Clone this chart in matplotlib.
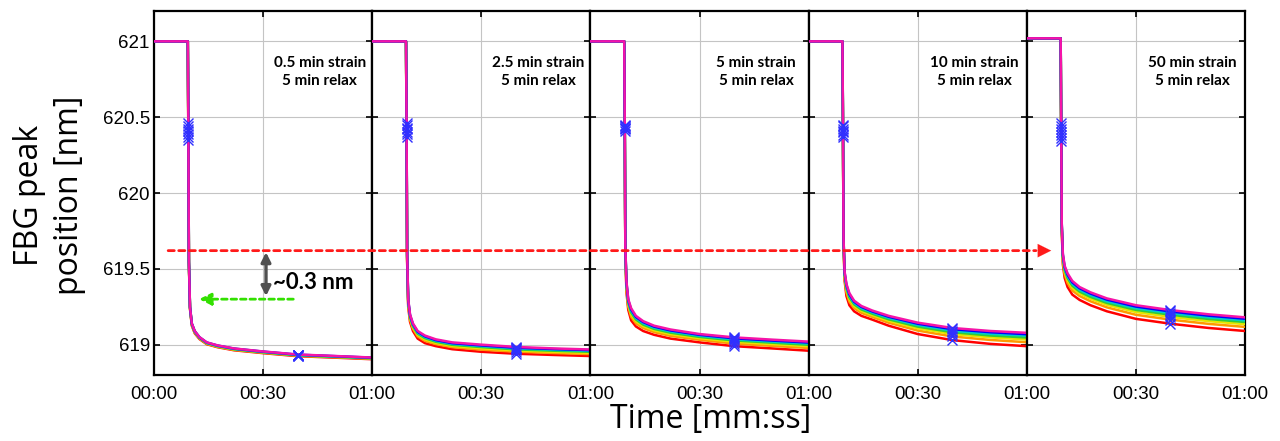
import numpy as np
import matplotlib
matplotlib.use('Agg')
import matplotlib.pyplot as plt
from matplotlib.patches import ConnectionPatch

# time axis [s]; first two points are the strain plateau, third the step (marker), rest the relaxation
t_plateau = [0.0, 9.3]
t_step = 9.45
t_relax = [9.6, 9.9, 10.4, 11.2, 12.5, 14.5, 17.5, 22.0, 30.0, 39.5, 50.0, 60.0]
i_mark = 9  # index of 39.5 s in t_relax

panel_labels = ['0.5 min strain\n5 min relax', '2.5 min strain\n5 min relax',
                '5 min strain\n5 min relax', '10 min strain\n5 min relax',
                '50 min strain\n5 min relax']
plateau = [621.0, 621.0, 621.0, 621.0, 621.02]

line_colors = ['#ff0000', '#ff9900', '#e6e600', '#33cc33', '#00cccc', '#0000ff', '#f514a8']

# step marker values (red -> magenta)
step_p1 = [620.35, 620.37, 620.39, 620.41, 620.42, 620.44, 620.46]
step_p2 = [620.37, 620.39, 620.40, 620.42, 620.43, 620.45, 620.46]
step_p3 = [620.41, 620.42, 620.43, 620.43, 620.44, 620.44, 620.45]
step_p4 = [620.37, 620.38, 620.40, 620.41, 620.42, 620.44, 620.45]
step_p5 = [620.34, 620.36, 620.38, 620.40, 620.42, 620.44, 620.46]

# relaxation curves per panel (rows red, orange, yellow, green, cyan, blue, magenta)
relax_p1 = [
    [619.53, 619.235, 619.125, 619.075, 619.037, 619.003, 618.983, 618.963, 618.944, 618.924, 618.914, 618.904],
    [619.54, 619.240, 619.130, 619.080, 619.041, 619.006, 618.986, 618.966, 618.947, 618.927, 618.917, 618.907],
    [619.54, 619.243, 619.133, 619.082, 619.043, 619.008, 618.988, 618.968, 618.949, 618.929, 618.919, 618.909],
    [619.545, 619.245, 619.135, 619.085, 619.045, 619.010, 618.990, 618.970, 618.950, 618.930, 618.920, 618.910],
    [619.545, 619.247, 619.137, 619.087, 619.047, 619.012, 618.992, 618.972, 618.952, 618.932, 618.922, 618.912],
    [619.55, 619.249, 619.139, 619.089, 619.049, 619.014, 618.994, 618.974, 618.954, 618.934, 618.924, 618.914],
    [619.55, 619.250, 619.140, 619.090, 619.050, 619.015, 618.995, 618.975, 618.955, 618.935, 618.925, 618.915],
]
relax_p2 = [
    [619.55, 619.250, 619.150, 619.090, 619.040, 619.010, 618.990, 618.970, 618.953, 618.940, 618.932, 618.925],
    [619.565, 619.265, 619.165, 619.105, 619.055, 619.025, 619.004, 618.984, 618.967, 618.954, 618.945, 618.938],
    [619.575, 619.275, 619.175, 619.115, 619.065, 619.035, 619.012, 618.992, 618.976, 618.962, 618.953, 618.946],
    [619.583, 619.283, 619.183, 619.123, 619.073, 619.043, 619.019, 618.999, 618.984, 618.969, 618.960, 618.953],
    [619.589, 619.289, 619.189, 619.129, 619.079, 619.049, 619.025, 619.005, 618.990, 618.975, 618.966, 618.959],
    [619.595, 619.295, 619.195, 619.135, 619.085, 619.055, 619.030, 619.010, 618.995, 618.980, 618.971, 618.964],
    [619.60, 619.300, 619.200, 619.140, 619.090, 619.060, 619.035, 619.015, 619.000, 618.985, 618.975, 618.968],
]
relax_p3 = [
    [619.60, 619.350, 619.230, 619.160, 619.120, 619.090, 619.065, 619.040, 619.015, 618.990, 618.975, 618.960],
    [619.615, 619.371, 619.251, 619.184, 619.141, 619.110, 619.083, 619.058, 619.032, 619.007, 618.992, 618.978],
    [619.625, 619.385, 619.265, 619.200, 619.155, 619.123, 619.095, 619.070, 619.043, 619.019, 619.004, 618.990],
    [619.633, 619.396, 619.276, 619.212, 619.166, 619.132, 619.104, 619.079, 619.051, 619.028, 619.013, 618.999],
    [619.639, 619.405, 619.285, 619.222, 619.175, 619.141, 619.112, 619.087, 619.058, 619.035, 619.020, 619.007],
    [619.645, 619.413, 619.293, 619.232, 619.183, 619.149, 619.119, 619.094, 619.065, 619.042, 619.027, 619.014],
    [619.65, 619.420, 619.300, 619.240, 619.190, 619.155, 619.125, 619.100, 619.070, 619.048, 619.033, 619.020],
]
relax_p4 = [
    [619.65, 619.420, 619.320, 619.260, 619.220, 619.190, 619.165, 619.125, 619.070, 619.030, 619.005, 618.990],
    [619.665, 619.438, 619.344, 619.284, 619.241, 619.210, 619.183, 619.145, 619.093, 619.054, 619.031, 619.016],
    [619.675, 619.450, 619.360, 619.300, 619.255, 619.223, 619.195, 619.158, 619.108, 619.070, 619.048, 619.034],
    [619.683, 619.459, 619.372, 619.312, 619.266, 619.232, 619.204, 619.167, 619.119, 619.082, 619.060, 619.047],
    [619.689, 619.467, 619.382, 619.322, 619.275, 619.241, 619.212, 619.176, 619.129, 619.092, 619.071, 619.059],
    [619.695, 619.474, 619.392, 619.332, 619.283, 619.249, 619.219, 619.184, 619.138, 619.102, 619.082, 619.069],
    [619.70, 619.480, 619.400, 619.340, 619.290, 619.255, 619.225, 619.190, 619.145, 619.110, 619.090, 619.078],
]
relax_p5 = [
    [619.75, 619.530, 619.440, 619.380, 619.330, 619.295, 619.260, 619.220, 619.170, 619.138, 619.110, 619.090],
    [619.765, 619.551, 619.464, 619.407, 619.357, 619.321, 619.286, 619.246, 619.197, 619.165, 619.137, 619.117],
    [619.775, 619.565, 619.480, 619.425, 619.375, 619.338, 619.303, 619.263, 619.215, 619.183, 619.155, 619.135],
    [619.783, 619.576, 619.492, 619.439, 619.389, 619.350, 619.315, 619.275, 619.229, 619.197, 619.169, 619.149],
    [619.789, 619.585, 619.502, 619.450, 619.400, 619.361, 619.326, 619.286, 619.240, 619.208, 619.180, 619.160],
    [619.795, 619.593, 619.512, 619.461, 619.411, 619.372, 619.337, 619.297, 619.251, 619.219, 619.191, 619.171],
    [619.80, 619.600, 619.520, 619.470, 619.420, 619.380, 619.345, 619.305, 619.260, 619.228, 619.200, 619.180],
]

step_all = [step_p1, step_p2, step_p3, step_p4, step_p5]
relax_all = [relax_p1, relax_p2, relax_p3, relax_p4, relax_p5]

yticks = [619, 619.5, 620, 620.5, 621]
ytick_labels = ['619', '619.5', '620', '620.5', '621']
xticks = [0, 30, 60]
xtick_labels = ['00:00', '00:30', '01:00']

# annotations
ref_level = 619.62     # red dashed reference line
drop_top, drop_bot = 619.61, 619.32
green_level = 619.30

fig = plt.figure(figsize=(12.8, 4.41), dpi=100)
gs = fig.add_gridspec(1, 5, left=0.1203, right=0.9727, bottom=0.1497, top=0.975, wspace=0)
axs = [fig.add_subplot(gs[0, i]) for i in range(5)]

tick_font = {'family': 'Liberation Sans', 'size': 13.5}

for ip, ax in enumerate(axs):
    t_line = t_plateau + [t_step] + t_relax
    for ic, clr in enumerate(line_colors):
        y_line = [plateau[ip], plateau[ip], step_all[ip][ic]] + relax_all[ip][ic]
        ax.plot(t_line, y_line, color=clr, lw=1.8, zorder=3)
    for ic in range(len(line_colors)):
        ax.plot([t_step, t_relax[i_mark]], [step_all[ip][ic], relax_all[ip][ic][i_mark]],
                'x', color='#3030ff', ms=6.5, mew=1.0, zorder=4)

    ax.set_xlim(0, 60)
    ax.set_ylim(618.8, 621.2)
    ax.set_xticks(xticks)
    if ip == 0:
        ax.set_xticklabels(xtick_labels, fontdict=tick_font)
    else:
        ax.set_xticklabels([''] + xtick_labels[1:], fontdict=tick_font)
    ax.set_yticks(yticks)
    if ip == 0:
        ax.set_yticklabels(ytick_labels, fontdict=tick_font)
    else:
        ax.set_yticklabels([])
    ax.tick_params(direction='in', length=4, width=1.2, top=True, right=True, colors='black')
    ax.tick_params(axis='x', pad=8)
    ax.tick_params(axis='y', pad=3)
    ax.grid(True, color='#c4c4c4', lw=0.8)
    ax.set_axisbelow(True)
    for sp in ax.spines.values():
        sp.set_linewidth(1.6)
    ax.text(0.76, 0.832, panel_labels[ip], transform=ax.transAxes, ha='center', va='center',
            fontsize=11, fontweight='bold', family='Lato', linespacing=1.35)

# red dashed reference arrow across all panels
con = ConnectionPatch(xyA=(3.9, ref_level), coordsA=axs[0].transData,
                      xyB=(2.5, ref_level), coordsB=axs[4].transData,
                      color='#ff1a1a', lw=2, linestyle=(0, (2.2, 1.6)), zorder=10)
fig.add_artist(con)
axs[4].annotate('', xy=(6.7, ref_level), xytext=(1.5, ref_level),
                arrowprops=dict(arrowstyle='-|>', color='#ff1a1a', lw=0.1, mutation_scale=24,
                                shrinkA=0, shrinkB=0),
                annotation_clip=False, zorder=10)

# gray double arrow and label
ax0 = axs[0]
ax0.annotate('', xy=(30.8, drop_bot), xytext=(30.8, drop_top),
             arrowprops=dict(arrowstyle='<|-|>', color='#505050', lw=2.4, mutation_scale=14,
                             shrinkA=0, shrinkB=0), zorder=6)
ax0.text(32.7, 619.41, '~0.3 nm', fontsize=16, fontweight='bold', family='Lato',
         ha='left', va='center', zorder=6)

# green dashed arrow
ax0.annotate('', xy=(12.4, green_level), xytext=(38.3, green_level),
             arrowprops=dict(arrowstyle='-|>', color='#33e000', lw=2, linestyle=(0, (2, 1.4)),
                             mutation_scale=18, shrinkA=0, shrinkB=0), zorder=6)

fig.text(0.555, 0.048, 'Time [mm:ss]', ha='center', va='center', fontsize=23, family='Open Sans')
fig.text(0.0387, 0.556, 'FBG peak\nposition [nm]', ha='center', va='center', rotation=90,
         fontsize=23, family='Open Sans', linespacing=1.25, multialignment='center')

plt.savefig('out.png', dpi=100)
